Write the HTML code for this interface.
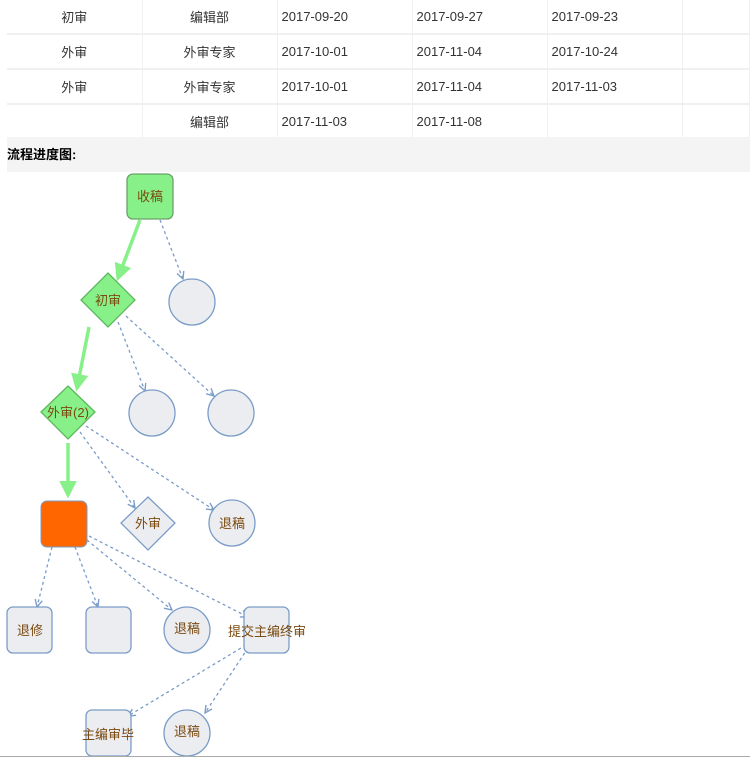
<!DOCTYPE html>
<html><head><meta charset="utf-8"><style>
body{margin:0;width:750px;height:758px;background:#fff;overflow:hidden;position:relative;font-family:"Liberation Sans","Noto Sans CJK SC",sans-serif;}
table{position:absolute;left:7px;top:0;border-collapse:collapse;width:743px;font-size:13px;color:#333;table-layout:fixed;}
td{height:33px;border-bottom:2px solid #f0f0f0;border-right:1px solid #f0f0f0;padding:0;}
td.c{text-align:center}
td.l{padding-left:4px}
.hdr{position:absolute;left:7px;top:137px;width:743px;height:35px;background:#f4f4f4;font-weight:bold;font-size:13px;line-height:36px;color:#000;}
svg{position:absolute;left:0;top:0}
</style></head><body>
<table>
<colgroup><col style="width:135px"><col style="width:135px"><col style="width:135px"><col style="width:135px"><col style="width:135px"><col></colgroup>
<tr><td class="c">初审</td><td class="c">编辑部</td><td class="l">2017-09-20</td><td class="l">2017-09-27</td><td class="l">2017-09-23</td><td></td></tr>
<tr><td class="c">外审</td><td class="c">外审专家</td><td class="l">2017-10-01</td><td class="l">2017-11-04</td><td class="l">2017-10-24</td><td></td></tr>
<tr><td class="c">外审</td><td class="c">外审专家</td><td class="l">2017-10-01</td><td class="l">2017-11-04</td><td class="l">2017-11-03</td><td></td></tr>
<tr><td class="c"></td><td class="c">编辑部</td><td class="l">2017-11-03</td><td class="l">2017-11-08</td><td class="l"></td><td></td></tr>
</table>
<div class="hdr">流程进度图:</div>
<svg width="750" height="758" font-family="Liberation Sans, Noto Sans CJK SC, sans-serif" font-size="13">
<defs>
<marker id="a" viewBox="0 0 10 10" refX="9" refY="5" markerWidth="7" markerHeight="7" orient="auto"><path d="M1,1 L9,5 L1,9" fill="none" stroke="#7a9cc8" stroke-width="1.5"/></marker>
<marker id="g" viewBox="0 0 10 10" refX="8" refY="5" markerWidth="5" markerHeight="5" orient="auto"><path d="M0,0 L10,5 L0,10 z" fill="#88f088"/></marker>
</defs>
<g stroke="#7a9cc8" stroke-width="1.3" stroke-dasharray="3,3" fill="none" marker-end="url(#a)">
<line x1="160" y1="220" x2="183" y2="279"/>
<line x1="118" y1="322" x2="145" y2="391"/>
<line x1="126" y1="316" x2="214" y2="396"/>
<line x1="80" y1="432" x2="135" y2="508"/>
<line x1="86" y1="426" x2="214" y2="510"/>
<line x1="52" y1="547" x2="37" y2="607"/>
<line x1="75" y1="547" x2="98" y2="607"/>
<line x1="87" y1="540" x2="172" y2="610"/>
<line x1="89" y1="536" x2="248" y2="617"/>
<line x1="246" y1="645" x2="128" y2="716"/>
<line x1="248" y1="648" x2="205" y2="713"/>
</g>
<g stroke="#88f088" stroke-width="3.5" marker-end="url(#g)">
<line x1="140" y1="220" x2="118" y2="278"/>
<line x1="89" y1="327" x2="77" y2="388"/>
<line x1="68" y1="443" x2="68" y2="495"/>
</g>
<g stroke="#7a9cc8" stroke-width="1.3" fill="#ecedf0">
<circle cx="192" cy="302" r="23"/>
<circle cx="152" cy="413" r="23"/>
<circle cx="231" cy="413" r="23"/>
<circle cx="232" cy="523" r="23"/>
<circle cx="187" cy="630" r="23"/>
<circle cx="187" cy="733" r="23"/>
<path d="M148,497 L175,523 L148,550 L121,523 Z"/>
<rect x="7" y="607" width="45" height="46" rx="6"/>
<rect x="86" y="607" width="45" height="46" rx="6"/>
<rect x="244" y="607" width="45" height="46" rx="6"/>
<rect x="86" y="710" width="45" height="46" rx="6"/>
</g>
<g stroke="#5cb85c" stroke-width="1.3" fill="#88f088">
<rect x="127" y="174" width="46" height="45" rx="6" stroke="#6aa06a"/>
<path d="M108,273 L135,300 L108,327 L81,300 Z"/>
<path d="M68,386 L95,412 L68,439 L41,412 Z"/>
</g>
<rect x="41" y="501" width="46" height="46" rx="6" fill="#ff6600" stroke="#7a9cc8" stroke-width="1"/>
<g fill="#7a4a10" text-anchor="middle">
<text x="150" y="201">收稿</text>
<text x="108" y="305">初审</text>
<text x="68" y="417">外审(2)</text>
<text x="148" y="528">外审</text>
<text x="232" y="528">退稿</text>
<text x="30" y="635">退修</text>
<text x="187" y="633">退稿</text>
<text x="267" y="636">提交主编终审</text>
<text x="108" y="739">主编审毕</text>
<text x="187" y="736">退稿</text>
</g>
<line x1="0" y1="756.5" x2="750" y2="756.5" stroke="#aaa" stroke-width="1"/>
</svg>
</body></html>
